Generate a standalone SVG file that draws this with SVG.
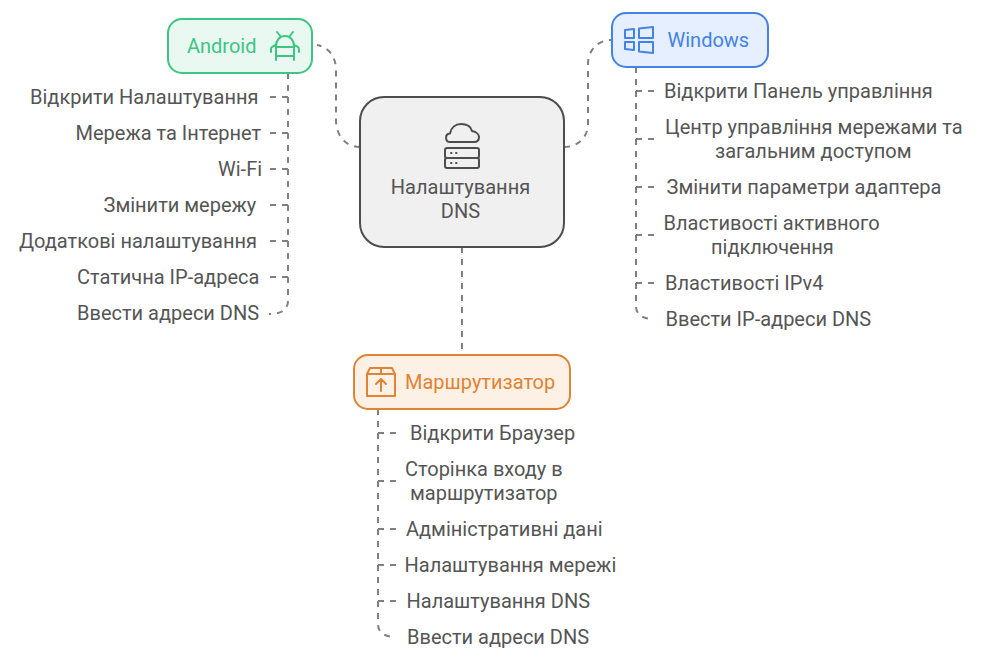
<svg xmlns="http://www.w3.org/2000/svg" width="984" height="661" viewBox="0 0 984 661">
<style>
text{font-family:Roboto,"Liberation Sans",sans-serif;font-size:20px;fill:#555}
.c{fill:none;stroke:#808080;stroke-width:2;stroke-dasharray:6 6}
.i{fill:none;stroke-width:2;stroke-linecap:round;stroke-linejoin:round}
</style>
<rect width="984" height="661" fill="#fff"/>
<g id="connectors">
<path class="c" d="M360 147C346 147 336 136 336 120V70C336 56 328 47 317 45"/>
<path class="c" d="M564 147C578 147 588 137 588 124V64C588 50 598 40 611 40"/>
<path class="c" d="M462 247V354"/>
<path class="c" d="M288 73V301C288 309 282 314 269 314"/>
<path class="c" d="M270 97H288M270 133H288M270 169H288M270 205H288M270 241H288M270 277H288"/>
<path class="c" d="M636 67V306C636 314 642 319 654 319"/>
<path class="c" d="M654 91H636M654 139H636M654 187H636M654 235H636M654 283H636"/>
<path class="c" d="M378 409V624C378 632 384 637 396 637"/>
<path class="c" d="M396 433H378M396 481H378M396 529H378M396 565H378M396 601H378"/>
</g>
<g id="node-main">
<rect x="360" y="97" width="204" height="150" rx="24" fill="#f0f0f0" stroke="#4d4d4d" stroke-width="2"/>
<g class="i" stroke="#4d4d4d">
<path d="M450 142C445 142 444.500 134 450 133.500C451 128 455 124 461 124C467 124 471 127 472 131C477 132 479 135 479 137C479 140 477 142 474 142Z"/>
<rect x="445" y="148" width="34" height="10" rx="2"/>
<rect x="445" y="158" width="34" height="10" rx="2"/>
<path d="M451 153h.5M456 153h.5M451 163h.5M456 163h.5"/>
</g>
<text x="460.500" y="194" text-anchor="middle">Налаштування</text>
<text x="460.500" y="218" text-anchor="middle">DNS</text>
</g>
<g id="node-android">
<rect x="168" y="19" width="144" height="54" rx="14" fill="#e9f9f2" stroke="#3cc583" stroke-width="2"/>
<text x="187" y="53" style="fill:#3cc583">Android</text>
<g class="i" stroke="#3cc583">
<path d="M277 32L281 37M293 32L289 37M276 60V46C276 40 280 36 285 36C290 36 294 40 294 46V60M276 47H294M276 56H294M271 52V49C271 47 273 46 276 45M299 52V49C299 47 297 46 294 45"/>
</g>
</g>
<g id="node-windows">
<rect x="612" y="13" width="156" height="54" rx="14" fill="#e5efff" stroke="#4382e6" stroke-width="2"/>
<text x="667.500" y="47" style="fill:#4382e6">Windows</text>
<g class="i" stroke="#4382e6">
<path d="M625 30L634 29V38H625ZM639 28.500L653 27V38H639ZM625 42H634V50L625 49ZM639 42H653V53L639 51.500Z"/>
</g>
</g>
<g id="node-router">
<rect x="354" y="355" width="216" height="54" rx="14" fill="#fdf1e5" stroke="#e08334" stroke-width="2"/>
<text x="405" y="389" style="fill:#e08334">Маршрутизатор</text>
<g class="i" stroke="#e08334">
<path d="M367 374L370 368H392L395 374V396H367ZM367 374H395M381 368V374M381 391V379M376 384L381 379L386 384"/>
</g>
</g>
<g id="steps-android">
<text x="30" y="104">Відкрити Налаштування</text>
<text x="75.500" y="140">Мережа та Інтернет</text>
<text x="218" y="176">Wi-Fi</text>
<text x="103.500" y="212">Змінити мережу</text>
<text x="19" y="248">Додаткові налаштування</text>
<text x="77" y="284">Статична IP-адреса</text>
<text x="77" y="320">Ввести адреси DNS</text>
</g>
<g id="steps-windows">
<text x="664" y="98">Відкрити Панель управління</text>
<text x="665" y="134">Центр управління мережами та</text>
<text x="715" y="158">загальним доступом</text>
<text x="666.500" y="194">Змінити параметри адаптера</text>
<text x="663.500" y="230">Властивості активного</text>
<text x="711" y="254">підключення</text>
<text x="665" y="290">Властивості IPv4</text>
<text x="665.500" y="326">Ввести IP-адреси DNS</text>
</g>
<g id="steps-router">
<text x="410" y="440">Відкрити Браузер</text>
<text x="405" y="476">Сторінка входу в</text>
<text x="410" y="500">маршрутизатор</text>
<text x="406" y="536">Адміністративні дані</text>
<text x="404.500" y="572">Налаштування мережі</text>
<text x="406.500" y="608">Налаштування DNS</text>
<text x="407" y="644">Ввести адреси DNS</text>
</g>
</svg>
